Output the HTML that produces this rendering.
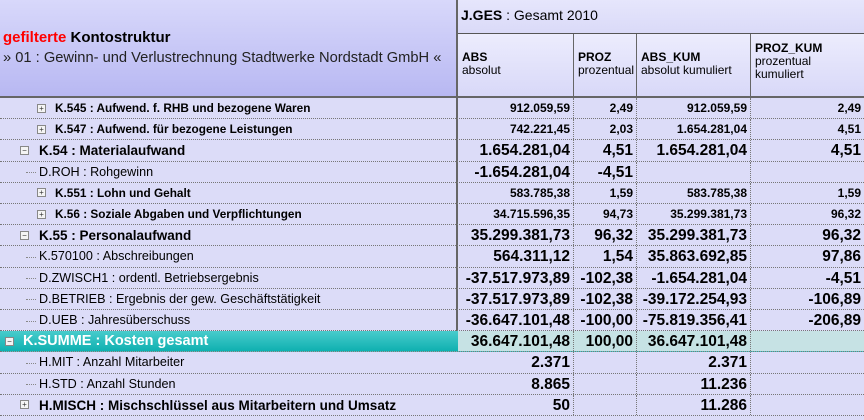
<!DOCTYPE html>
<html><head><meta charset="utf-8">
<style>
body{margin:0;width:864px;height:420px;overflow:hidden;background:#dcdcf8;font-family:"Liberation Sans",sans-serif;position:relative}
.a{position:absolute;white-space:nowrap}
.hdr{position:absolute;left:0;top:0;width:457px;height:96px;background:linear-gradient(#d8d8fb,#b8b8f2)}
.row{position:absolute;left:0;width:864px;border-bottom:1px dotted #777}
.cell{position:absolute;top:0;text-align:right;box-sizing:border-box;padding-right:3px;font-weight:bold;color:#000;overflow:hidden}
.box{position:absolute;width:7px;height:7px;border:1px solid #888;background:#f4f4f4;font-size:8px;line-height:7px;text-align:center;color:#333}
</style></head><body>
<div class="hdr"></div>
<div class="a" style="left:3px;top:29px;font-size:15px;font-weight:bold"><span style="color:#f00">gefilterte</span> Kontostruktur</div>
<div class="a" style="left:3px;top:50px;color:#222;font-size:14.7px">» 01 : Gewinn- und Verlustrechnung Stadtwerke Nordstadt GmbH «</div>
<div class="a" style="left:457px;top:0;width:407px;height:33px;background:linear-gradient(#e6e6fc,#dadaf8);border-bottom:1px solid #555"></div>
<div class="a" style="left:461px;top:7px;font-size:14px"><b>J.GES</b> : Gesamt 2010</div>
<div class="a" style="left:457px;top:34px;width:407px;height:63px;background:linear-gradient(#ececfd,#d8d8f8)"></div>
<div id="cols"></div>
<div class="a" style="left:0;top:96px;width:864px;height:2px;background:#666"></div>
<div class="a" style="left:456px;top:0;width:2px;height:340px;background:#666"></div>
<div id="rows"></div>
<script>
const colNames=["ABS","PROZ","ABS_KUM","PROZ_KUM"];
const colDesc=["absolut","prozentual","absolut kumuliert","prozentual<br>kumuliert"];
const colX=[458,573,636,750,864];
const labels=["K.545 : Aufwend. f. RHB und bezogene Waren","K.547 : Aufwend. für bezogene Leistungen","K.54 : Materialaufwand","D.ROH : Rohgewinn","K.551 : Lohn und Gehalt","K.56 : Soziale Abgaben und Verpflichtungen","K.55 : Personalaufwand","K.570100 : Abschreibungen","D.ZWISCH1 : ordentl. Betriebsergebnis","D.BETRIEB : Ergebnis der gew. Geschäftstätigkeit","D.UEB : Jahresüberschuss","K.SUMME : Kosten gesamt","H.MIT : Anzahl Mitarbeiter","H.STD : Anzahl Stunden","H.MISCH : Mischschlüssel aus Mitarbeitern und Umsatz"];
const levels=[2,2,1,1,2,2,1,1,1,1,1,0,1,1,1];
const styles=["s","s","b","n","s","s","b","n","n","n","n","t","n","n","b"];
const boxes=["+","+","−","","+","+","−","","","","","−","","","+"];
const absVals=["912.059,59","742.221,45","1.654.281,04","-1.654.281,04","583.785,38","34.715.596,35","35.299.381,73","564.311,12","-37.517.973,89","-37.517.973,89","-36.647.101,48","36.647.101,48","2.371","8.865","50"];
const prozVals=["2,49","2,03","4,51","-4,51","1,59","94,73","96,32","1,54","-102,38","-102,38","-100,00","100,00","","",""];
const absKumVals=["912.059,59","1.654.281,04","1.654.281,04","","583.785,38","35.299.381,73","35.299.381,73","35.863.692,85","-1.654.281,04","-39.172.254,93","-75.819.356,41","36.647.101,48","2.371","11.236","11.286"];
const prozKumVals=["2,49","4,51","4,51","","1,59","96,32","96,32","97,86","-4,51","-106,89","-206,89","","","",""];
const cols=document.getElementById('cols');
colNames.forEach((n,i)=>{
  const d=document.createElement('div');d.className='a';
  
  
  d.style.cssText=`left:${colX[i]}px;top:34px;width:${colX[i+1]-colX[i]}px;height:63px;border-left:${i?'1px solid #666':'0'};box-sizing:border-box;padding:${i==3?8:17}px 0 0 4px;font-size:12px;line-height:13px`;
  d.innerHTML='<b>'+n+'</b><br>'+colDesc[i];cols.appendChild(d);
});
const rows=document.getElementById('rows');
const RH=21.2,T0=98;
labels.forEach((lab,i)=>{
  const top=T0+i*RH, st=styles[i], lv=levels[i];
  const r=document.createElement('div');r.className='row';
  
  
  r.style.top=top+'px';r.style.height=(RH-1)+'px';
  if(st==='t'){r.style.background='linear-gradient(#48cccc,#0fb0b0)';}
  const textX=[23,39,55][lv], boxX=[5,20,37][lv];
  const fs=st==='s'?11.8:st==='n'?12.6:st==='t'?14.5:13.5;
  const lb=document.createElement('div');lb.className='a';
  
  
  lb.style.cssText=`left:${textX}px;top:0;line-height:${RH}px;font-size:${fs}px;font-weight:${st==='n'?'normal':'bold'};color:${st==='t'?'#fff':'#000'}`;
  lb.textContent=lab;r.appendChild(lb);
  if(boxes[i]){const b=document.createElement('div');b.className='box';
    
    
    b.style.left=boxX+'px';b.style.top=(RH/2-5)+'px';b.textContent=boxes[i]==='+'?'+':'−';r.appendChild(b);}
  else{const c=document.createElement('div');c.className='a';
    
    
    c.style.cssText=`left:26px;top:${RH/2}px;width:10px;border-top:1px dotted #888`;r.appendChild(c);}
  const vals=[absVals[i],prozVals[i],absKumVals[i],prozKumVals[i]];
  vals.forEach((v,j)=>{
    const c=document.createElement('div');c.className='cell';
    
    
    const big=st!=='s';
    c.style.cssText+=`left:${colX[j]}px;width:${colX[j+1]-colX[j]}px;height:${RH-1}px;line-height:${RH}px;font-size:${big?15.5:12}px;border-left:${j?'1px dotted #777':'0'}`;
    if(st==='t')c.style.background='#c6e2e4';
    c.textContent=v;r.appendChild(c);
  });
  rows.appendChild(r);
});
</script>
</body></html>
